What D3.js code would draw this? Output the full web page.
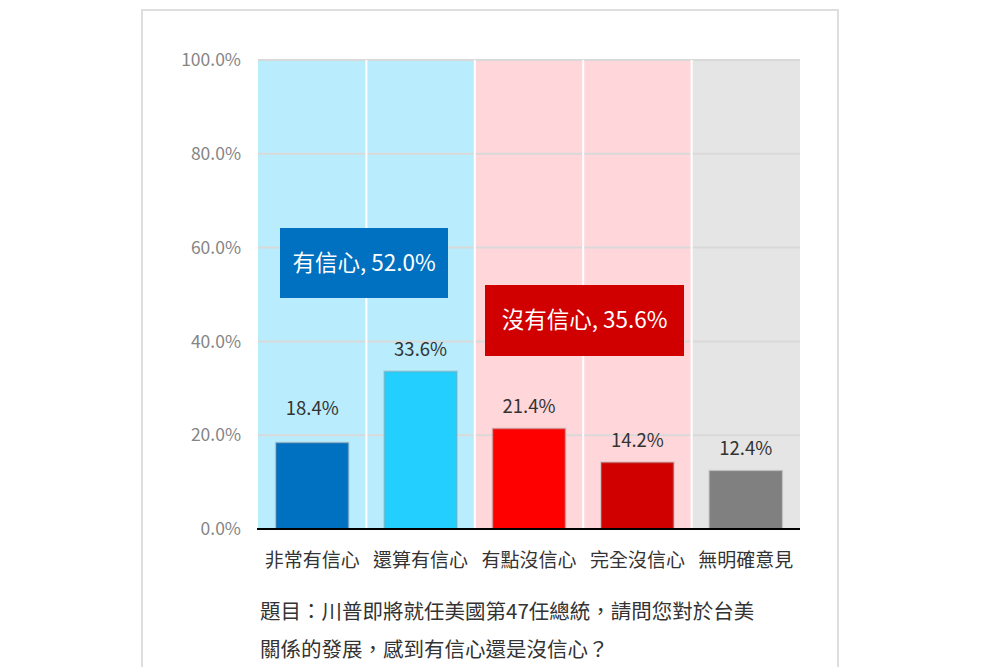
<!DOCTYPE html>
<html>
<head>
<meta charset="utf-8">
<style>
  body { margin: 0; background: #fff; }
  svg text { font-family: "Noto Sans CJK TC", "Noto Sans", sans-serif; }
</style>
</head>
<body>
<div id="chart-area"></div>
<script src="https://cdn.jsdelivr.net/npm/d3@7"></script>
<script>
    const categories = ["非常有信心", "還算有信心", "有點沒信心", "完全沒信心", "無明確意見"];
    const values = [18.4, 33.6, 21.4, 14.2, 12.4];
    const barColors = ["#0070C0", "#22CFFF", "#FF0000", "#D00000", "#808080"];
    const bandColors = ["#B9ECFD", "#B9ECFD", "#FFD7DA", "#FFD7DA", "#E5E5E5"];
    const yTicks = [0, 20, 40, 60, 80, 100];
    const groupLabels = ["有信心, 52.0%", "沒有信心, 35.6%"];
    const groupColors = ["#0070C0", "#D00000"];
    const titleLines = ["題目：川普即將就任美國第47任總統，請問您對於台美", "關係的發展，感到有信心還是沒信心？"];

    const width = 1000, height = 667;
    const plotLeft = 258, plotRight = 800, plotTop = 60, plotBottom = 529;

    const svg = d3.select("#chart-area").append("svg")
        .attr("width", width)
        .attr("height", height);

    // card
    svg.append("rect")
        .attr("x", 142).attr("y", 10)
        .attr("width", 696).attr("height", 700)
        .attr("fill", "#fff")
        .attr("stroke", "#dedede")
        .attr("stroke-width", 2);

    const x = d3.scaleBand().domain(categories).range([plotLeft, plotRight]).padding(0);
    const y = d3.scaleLinear().domain([0, 100]).range([plotBottom, plotTop]);

    // background bands
    svg.selectAll("rect.band")
        .data(categories)
        .join("rect")
            .attr("class", "band")
            .attr("x", d => x(d))
            .attr("y", plotTop)
            .attr("width", x.bandwidth())
            .attr("height", plotBottom - plotTop)
            .attr("fill", (d, i) => bandColors[i]);

    // gridlines
    svg.selectAll("line.grid")
        .data(yTicks.filter(t => t > 0))
        .join("line")
            .attr("class", "grid")
            .attr("x1", plotLeft).attr("x2", plotRight)
            .attr("y1", d => y(d)).attr("y2", d => y(d))
            .attr("stroke", "#d9d9d9")
            .attr("stroke-width", 2);

    // white separators between categories
    svg.selectAll("line.sep")
        .data(categories.slice(1))
        .join("line")
            .attr("class", "sep")
            .attr("x1", d => x(d)).attr("x2", d => x(d))
            .attr("y1", plotTop).attr("y2", plotBottom)
            .attr("stroke", "#fff")
            .attr("stroke-width", 2);

    // y tick labels
    svg.selectAll("text.ytick")
        .data(yTicks)
        .join("text")
            .attr("class", "ytick")
            .attr("x", 241)
            .attr("y", d => y(d))
            .attr("dy", "0.35em")
            .attr("text-anchor", "end")
            .attr("fill", "#858585")
            .attr("font-size", 17.5)
            .text(d => d.toFixed(1) + "%");

    // bars
    const bw = x.bandwidth() * 0.67;
    svg.selectAll("rect.bar")
        .data(values)
        .join("rect")
            .attr("class", "bar")
            .attr("x", (d, i) => x(categories[i]) + (x.bandwidth() - bw) / 2)
            .attr("y", d => y(d))
            .attr("width", bw)
            .attr("height", d => plotBottom - y(d))
            .attr("fill", (d, i) => barColors[i])
            .attr("stroke", "rgba(150,150,150,0.35)")
            .attr("stroke-width", 2);

    // value labels
    svg.selectAll("text.val")
        .data(values)
        .join("text")
            .attr("class", "val")
            .attr("x", (d, i) => x(categories[i]) + x.bandwidth() / 2)
            .attr("y", (d, i) => y(d) - (i === 0 ? 34 : 22))
            .attr("dy", "0.35em")
            .attr("text-anchor", "middle")
            .attr("fill", "#333")
            .attr("font-size", 18.5)
            .text(d => d.toFixed(1) + "%");

    // x axis line
    svg.append("line")
        .attr("x1", plotLeft - 1).attr("x2", plotRight)
        .attr("y1", plotBottom).attr("y2", plotBottom)
        .attr("stroke", "#000")
        .attr("stroke-width", 2);

    // category labels
    svg.selectAll("text.cat")
        .data(categories)
        .join("text")
            .attr("class", "cat")
            .attr("x", d => x(d) + x.bandwidth() / 2)
            .attr("y", 560)
            .attr("dy", "0.35em")
            .attr("text-anchor", "middle")
            .attr("fill", "#333")
            .attr("font-size", 19)
            .text(d => d);

    // group annotation boxes
    const boxes = [
        { x: 280, y: 228, w: 168, h: 70 },
        { x: 485, y: 285, w: 199, h: 71 }
    ];
    boxes.forEach((b, i) => {
        svg.append("rect")
            .attr("x", b.x).attr("y", b.y)
            .attr("width", b.w).attr("height", b.h)
            .attr("fill", groupColors[i]);
        svg.append("text")
            .attr("x", b.x + b.w / 2)
            .attr("y", b.y + b.h / 2)
            .attr("dy", "0.35em")
            .attr("text-anchor", "middle")
            .attr("fill", "#fff")
            .attr("font-size", 22.5)
            .text(groupLabels[i]);
    });

    // question text
    svg.selectAll("text.title")
        .data(titleLines)
        .join("text")
            .attr("class", "title")
            .attr("x", 260)
            .attr("y", (d, i) => 612 + i * 38)
            .attr("dy", "0.35em")
            .attr("fill", "#333")
            .attr("font-size", 20.5)
            .text(d => d);
</script>
</body>
</html>
